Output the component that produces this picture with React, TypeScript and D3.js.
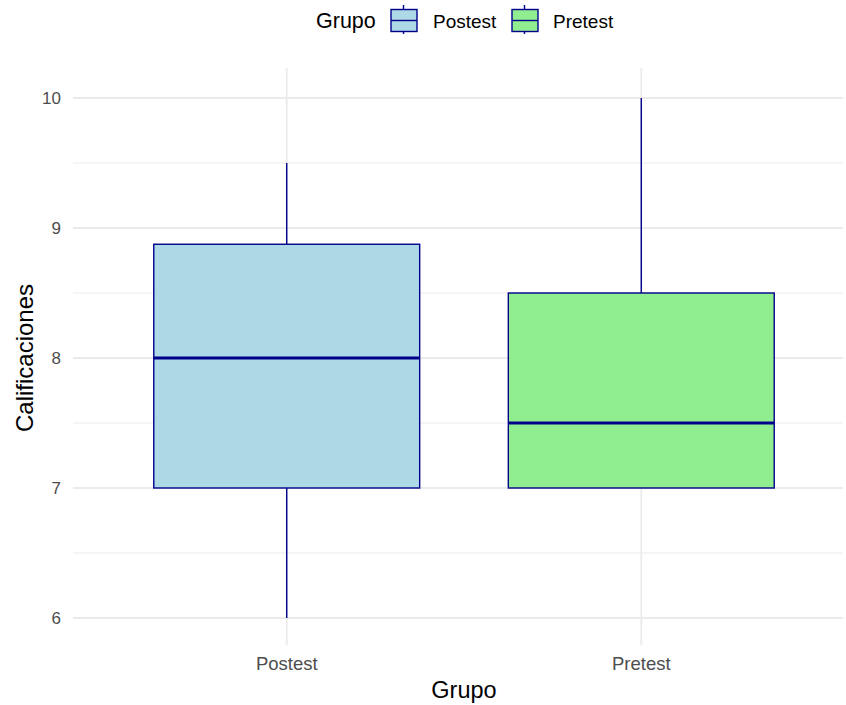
import React from "react";
import * as d3 from "d3";

const categories = ["Postest", "Pretest"];
const fills = ["#ADD8E6", "#90EE90"];
const mins = [6, 7];
const q1s = [7, 7];
const medians = [8, 7.5];
const q3s = [8.875, 8.5];
const maxs = [9.5, 10];
const yTicks = [6, 7, 8, 9, 10];
const yMinor = [6.5, 7.5, 8.5, 9.5];

const W = 846;
const H = 705;
const panelLeft = 73;
const panelRight = 846;
const panelTop = 68;
const panelBottom = 645;
const stroke = "#00008B";
const font = "'Liberation Sans', Arial, sans-serif";

export default function App() {
  const x = d3.scaleLinear().domain([0.4, 2.6]).range([74, 854]);
  const y = d3.scaleLinear().domain([6, 10]).range([618, 98]);
  const halfW = x(1.375) - x(1);

  return (
    <svg width={W} height={H} style={{ position: "absolute", left: 0, top: 0, background: "#fff" }}>
      <rect x={0} y={0} width={W} height={H} fill="#fff" />
      {yMinor.map((t) => (
        <line key={"mn" + t} x1={panelLeft} x2={panelRight - 3} y1={y(t)} y2={y(t)} stroke="#EBEBEB" strokeWidth={1} />
      ))}
      {yTicks.map((t) => (
        <line key={"mj" + t} x1={panelLeft} x2={panelRight - 3} y1={y(t)} y2={y(t)} stroke="#EBEBEB" strokeWidth={1.8} />
      ))}
      {categories.map((c, i) => (
        <line key={"vx" + c} x1={x(i + 1)} x2={x(i + 1)} y1={panelTop} y2={panelBottom} stroke="#EBEBEB" strokeWidth={1.8} />
      ))}
      {categories.map((c, i) => {
        const cx = x(i + 1);
        return (
          <g key={"b" + c}>
            <line x1={cx} x2={cx} y1={y(q3s[i])} y2={y(maxs[i])} stroke={stroke} strokeWidth={1.4} />
            <line x1={cx} x2={cx} y1={y(q1s[i])} y2={y(mins[i])} stroke={stroke} strokeWidth={1.4} />
            <rect x={cx - halfW} y={y(q3s[i])} width={halfW * 2} height={y(q1s[i]) - y(q3s[i])} fill={fills[i]} stroke={stroke} strokeWidth={1.4} />
            <line x1={cx - halfW} x2={cx + halfW} y1={y(medians[i])} y2={y(medians[i])} stroke={stroke} strokeWidth={2.8} />
          </g>
        );
      })}
      {yTicks.map((t) => (
        <text key={"yt" + t} x={61} y={y(t)} dy="0.36em" textAnchor="end" fontFamily={font} fontSize={17} fill="#4D4D4D">
          {t}
        </text>
      ))}
      {categories.map((c, i) => (
        <text key={"xt" + c} x={x(i + 1)} y={670} textAnchor="middle" fontFamily={font} fontSize={18.5} fill="#4D4D4D">
          {c}
        </text>
      ))}
      <text x={464} y={698} textAnchor="middle" fontFamily={font} fontSize={23.5} fill="#000">
        Grupo
      </text>
      <text transform={`translate(33,358) rotate(-90)`} textAnchor="middle" fontFamily={font} fontSize={24} fill="#000">
        Calificaciones
      </text>
      <text x={316} y={28} fontFamily={font} fontSize={21.5} fill="#000">
        Grupo
      </text>
      {categories.map((c, i) => {
        const kx = [391, 512][i];
        const lx = [433, 553][i];
        return (
          <g key={"lg" + c}>
            <line x1={kx + 12.5} x2={kx + 12.5} y1={5} y2={34} stroke={stroke} strokeWidth={1.4} />
            <rect x={kx} y={9.5} width={26} height={22} fill={fills[i]} stroke={stroke} strokeWidth={1.4} />
            <line x1={kx} x2={kx + 26} y1={20.5} y2={20.5} stroke={stroke} strokeWidth={1.4} />
            <text x={lx} y={28} fontFamily={font} fontSize={19} fill="#000">
              {c}
            </text>
          </g>
        );
      })}
    </svg>
  );
}
